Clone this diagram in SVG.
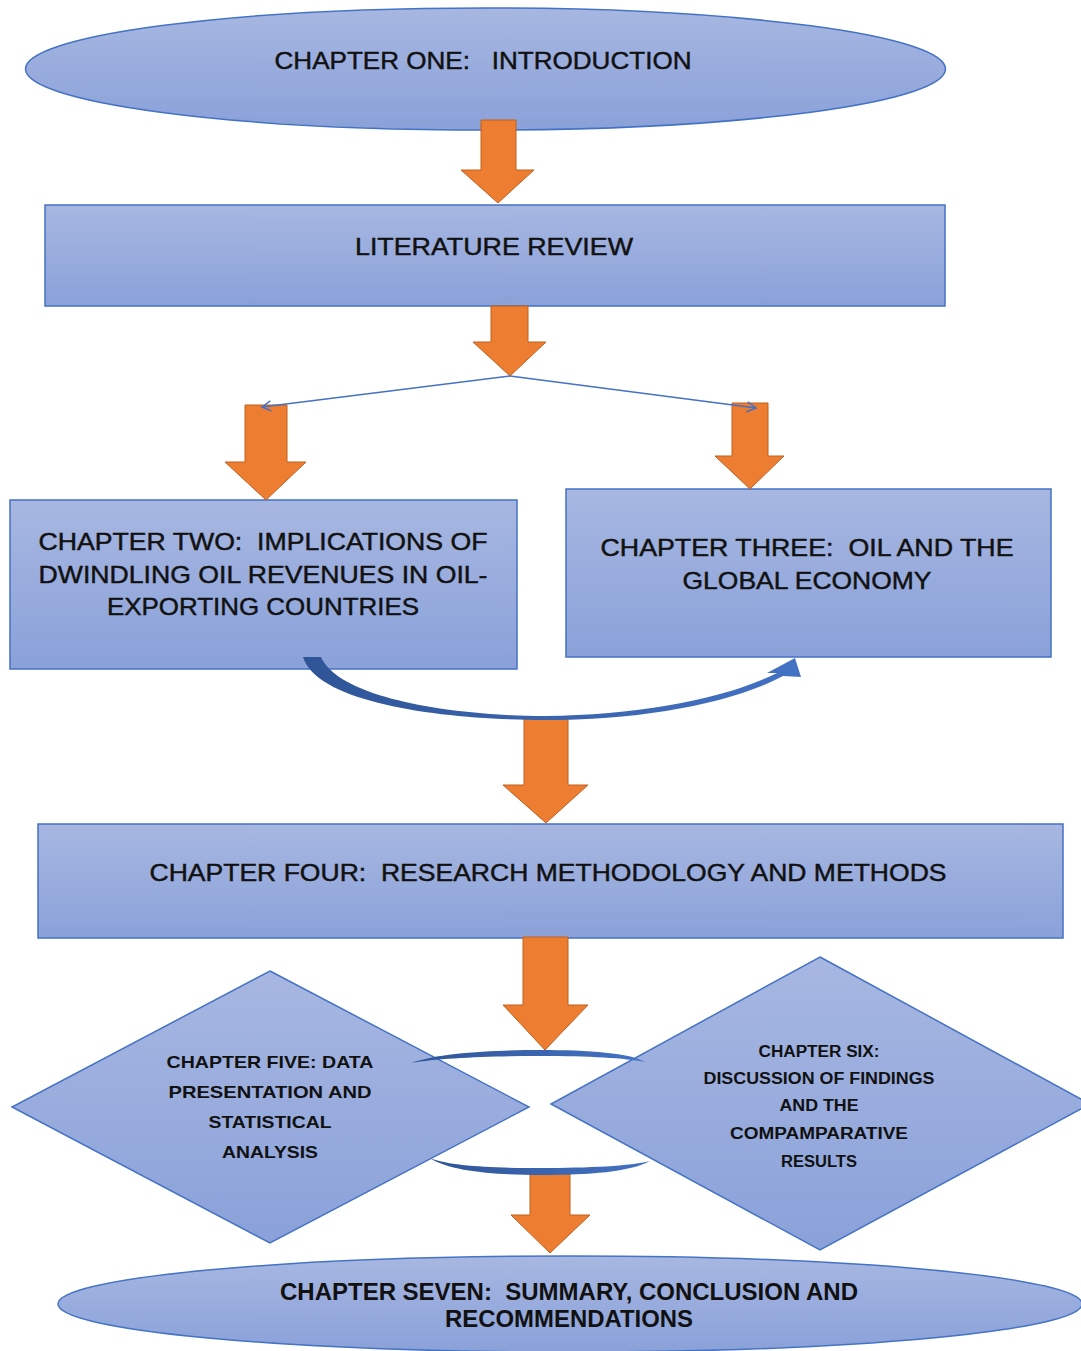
<svg xmlns="http://www.w3.org/2000/svg" width="1081" height="1351" viewBox="0 0 1081 1351">
<defs>
<linearGradient id="blueFill" x1="0" y1="0" x2="0" y2="1">
<stop offset="0" stop-color="#a7b7e1"/>
<stop offset="1" stop-color="#8aa1d9"/>
</linearGradient>
<linearGradient id="curveFill" x1="0" y1="0" x2="1" y2="0">
<stop offset="0" stop-color="#2f5597"/>
<stop offset="1" stop-color="#4472c4"/>
</linearGradient>
<marker id="openArrow" markerWidth="12" markerHeight="12" refX="10" refY="6" orient="auto" markerUnits="userSpaceOnUse">
<path d="M1,1 L10,6 L1,11" fill="none" stroke="#4472c4" stroke-width="1.5"/>
</marker>
<style>
.node{fill:url(#blueFill);stroke:#4472c4;stroke-width:1.5}
.big{font-family:"Liberation Sans",Arial,sans-serif;font-size:24px;fill:#111;stroke:#111;stroke-width:0.45;text-anchor:middle}
.heavy{font-weight:bold;stroke-width:0}
.small{font-family:"Liberation Sans",Arial,sans-serif;font-size:17px;font-weight:bold;fill:#111;text-anchor:middle}
.orange{fill:#ed7d31;stroke:#c0601f;stroke-width:1}
.thin{fill:none;stroke:#4472c4;stroke-width:1.6}
.curve{fill:url(#curveFill)}
</style>
</defs>
<rect width="1081" height="1351" fill="#ffffff"/>

<g id="ch1">
<ellipse class="node" cx="485.5" cy="69" rx="460" ry="61"/>
<text class="big" x="483" y="69" textLength="417" lengthAdjust="spacingAndGlyphs" xml:space="preserve">CHAPTER ONE:   INTRODUCTION</text>
</g>

<g id="lit">
<rect class="node" x="45" y="205" width="900" height="101"/>
<text class="big" x="494" y="255" textLength="278" lengthAdjust="spacingAndGlyphs">LITERATURE REVIEW</text>
</g>

<g id="ch2">
<rect class="node" x="10" y="500" width="507" height="169"/>
<text class="big" x="263" y="550" textLength="449" lengthAdjust="spacingAndGlyphs" xml:space="preserve">CHAPTER TWO:  IMPLICATIONS OF</text>
<text class="big" x="263" y="583" textLength="449" lengthAdjust="spacingAndGlyphs">DWINDLING OIL REVENUES IN OIL-</text>
<text class="big" x="263" y="615" textLength="312" lengthAdjust="spacingAndGlyphs">EXPORTING COUNTRIES</text>
</g>

<g id="ch3">
<rect class="node" x="566" y="489" width="485" height="168"/>
<text class="big" x="807" y="556" textLength="413" lengthAdjust="spacingAndGlyphs" xml:space="preserve">CHAPTER THREE:  OIL AND THE</text>
<text class="big" x="807" y="589" textLength="249" lengthAdjust="spacingAndGlyphs">GLOBAL ECONOMY</text>
</g>

<g id="ch4">
<rect class="node" x="38" y="824" width="1025" height="114"/>
<text class="big" x="548" y="881" textLength="797" lengthAdjust="spacingAndGlyphs" xml:space="preserve">CHAPTER FOUR:  RESEARCH METHODOLOGY AND METHODS</text>
</g>

<g id="ch5">
<polygon class="node" points="270,971 529,1107 270,1243 12,1107"/>
<text class="small" x="270" y="1068" textLength="207" lengthAdjust="spacingAndGlyphs">CHAPTER FIVE: DATA</text>
<text class="small" x="270" y="1098" textLength="203" lengthAdjust="spacingAndGlyphs">PRESENTATION AND</text>
<text class="small" x="270" y="1128" textLength="123" lengthAdjust="spacingAndGlyphs">STATISTICAL</text>
<text class="small" x="270" y="1158" textLength="96" lengthAdjust="spacingAndGlyphs">ANALYSIS</text>
</g>

<g id="ch6">
<polygon class="node" points="820,957 1090,1104 820,1250 551,1104"/>
<text class="small" x="819" y="1057" textLength="121" lengthAdjust="spacingAndGlyphs" style="font-size:16px">CHAPTER SIX:</text>
<text class="small" x="819" y="1084" textLength="231" lengthAdjust="spacingAndGlyphs" style="font-size:16px">DISCUSSION OF FINDINGS</text>
<text class="small" x="819" y="1111" textLength="79" lengthAdjust="spacingAndGlyphs" style="font-size:16px">AND THE</text>
<text class="small" x="819" y="1139" textLength="178" lengthAdjust="spacingAndGlyphs" style="font-size:16px">COMPAMPARATIVE</text>
<text class="small" x="819" y="1167" textLength="76" lengthAdjust="spacingAndGlyphs" style="font-size:16px">RESULTS</text>
</g>

<g id="ch7">
<ellipse class="node" cx="570" cy="1304" rx="512" ry="48"/>
<text class="big heavy" x="569" y="1300" textLength="578" lengthAdjust="spacingAndGlyphs" xml:space="preserve">CHAPTER SEVEN:  SUMMARY, CONCLUSION AND</text>
<text class="big heavy" x="569" y="1327" textLength="248" lengthAdjust="spacingAndGlyphs">RECOMMENDATIONS</text>
</g>

<g id="connectors">
<polygon class="orange" points="481,120 516,120 516,170 534,170 498,203 461,170 481,170"/>
<polygon class="orange" points="491,306 528,306 528,342 546,342 510,376 473,342 491,342"/>
<polygon class="orange" points="245,405 287,405 287,462 306,462 266,500 225,462 245,462"/>
<polygon class="orange" points="732,403 768,403 768,456 784,456 750,489 715,456 732,456"/>
<line class="thin" x1="510" y1="376" x2="262" y2="407" marker-end="url(#openArrow)"/>
<line class="thin" x1="510" y1="376" x2="756" y2="408" marker-end="url(#openArrow)"/>
<polygon class="orange" points="524,718 568,718 568,785 588,785 546,823 503,785 524,785"/>
<path class="curve" d="M303,657 C318,705 450,720 545,720 C640,720 730,704 783,676 L801,677 L795,658 L767,673 L777,673 C725,699 640,715 545,716 C460,716 340,700 321,657 Z"/>
<polygon class="orange" points="523,937 568,937 568,1005 588,1005 545,1050 503,1005 523,1005"/>
<polygon class="orange" points="530,1172 570,1172 570,1215 590,1215 550,1253 511,1215 530,1215"/>
<path class="curve" d="M411,1063 C440,1052 500,1050 540,1050 C590,1050 630,1053 645,1062 C625,1058 590,1056 540,1056 C490,1056 440,1058 411,1063 Z"/>
<path class="curve" d="M430,1158 C450,1172 500,1175 540,1175 C590,1175 630,1172 650,1161 C630,1166 590,1168 540,1168 C490,1168 450,1166 430,1158 Z"/>
</g>
</svg>
